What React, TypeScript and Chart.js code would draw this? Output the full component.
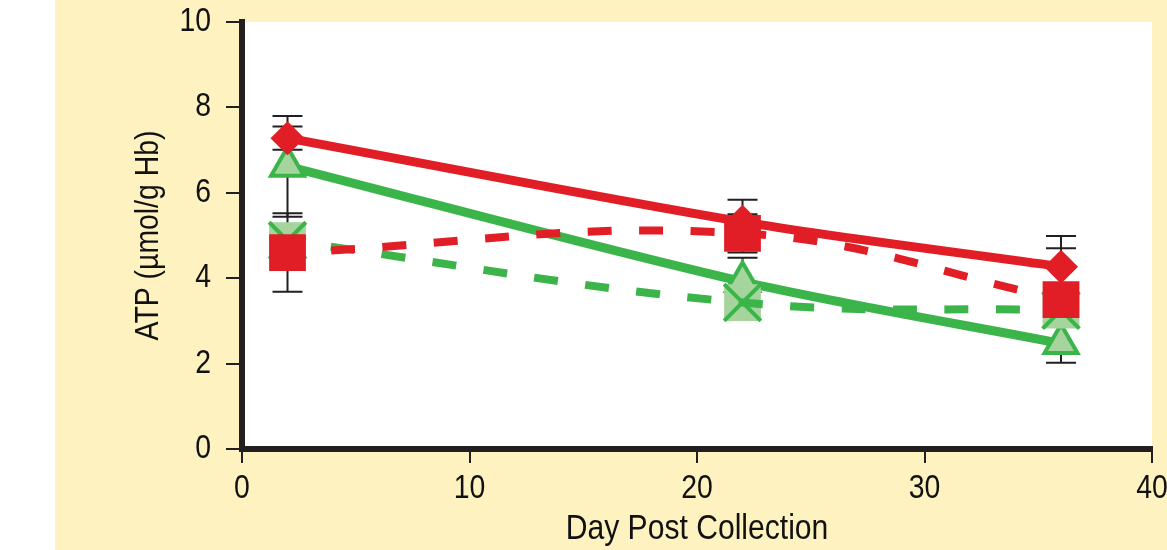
import React, { useEffect, useRef } from "react";
import { Chart, registerables } from "chart.js";

Chart.register(...registerables);

// ---- data ----
const days = [2, 22, 36];
const redSolid = [7.28, 5.32, 4.27]; // diamonds, solid red
const redSolidErr = [0.27, 0.52, 0.72];
const greenSolid = [6.62, 3.92, 2.47]; // triangles, solid green
const greenSolidErr = [1.18, 0.56, 0.45];
const redDashed = [4.6, 5.05, 3.5]; // squares, dashed red
const redDashedErr = [0.92, 0.45, 1.2];
const greenDashed = [4.88, 3.43, 3.25]; // X marks, dashed green
const greenDashedErr = [0.3, 0.25, 0.3];
const xTicks = [0, 10, 20, 30, 40];
const yTicks = [0, 2, 4, 6, 8, 10];

const RED = "#e11d26";
const GREEN = "#3bb54a";
const LIGHTGREEN = "#a5d49d";
const YELLOW = "#fef2c0";
const DARK = "#231f20";
const FONT = "'Liberation Sans', Arial, sans-serif";
const CONDENSE = 0.86; // horizontal squeeze to imitate a condensed face

const pts = (vals: number[]) => days.map((d, i) => ({ x: d, y: vals[i] }));

const condensedTextPlugin = {
  id: "condensedText",
  beforeDraw(chart: any) {
    const ctx = chart.ctx;
    if (ctx.__condensed) return;
    ctx.__condensed = true;
    const orig = CanvasRenderingContext2D.prototype.fillText;
    ctx.fillText = function (text: string, x: number, y: number, maxWidth?: number) {
      this.save();
      this.translate(x, y);
      this.scale(CONDENSE, 1);
      if (maxWidth === undefined) orig.call(this, text, 0, 0);
      else orig.call(this, text, 0, 0, maxWidth / CONDENSE);
      this.restore();
    };
  },
};

const bgPlugin = {
  id: "bgPanel",
  beforeDraw(chart: any) {
    const { ctx, chartArea: a, width, height } = chart;
    ctx.save();
    ctx.fillStyle = "#ffffff";
    ctx.fillRect(0, 0, width, height);
    ctx.fillStyle = YELLOW;
    ctx.fillRect(55, 0, width - 55, height);
    ctx.fillStyle = "#ffffff";
    ctx.fillRect(a.left, a.top, a.right - a.left, a.bottom - a.top);
    ctx.restore();
  },
};

const errPlugin = {
  id: "errBars",
  beforeDatasetsDraw(chart: any) {
    const { ctx } = chart;
    const xs = chart.scales.x;
    const ys = chart.scales.y;
    ctx.save();
    ctx.strokeStyle = DARK;
    ctx.lineWidth = 2;
    chart.data.datasets.forEach((ds: any) => {
      if (!ds.errors) return;
      ds.data.forEach((p: any, i: number) => {
        const e = ds.errors[i];
        const px = xs.getPixelForValue(p.x);
        const t = ys.getPixelForValue(p.y + e);
        const b = ys.getPixelForValue(p.y - e);
        ctx.beginPath();
        ctx.moveTo(px, t);
        ctx.lineTo(px, b);
        ctx.moveTo(px - 15, t);
        ctx.lineTo(px + 15, t);
        ctx.moveTo(px - 15, b);
        ctx.lineTo(px + 15, b);
        ctx.stroke();
      });
    });
    ctx.restore();
  },
};

export default function App() {
  const ref = useRef<HTMLCanvasElement | null>(null);
  useEffect(() => {
    if (!ref.current) return;
    const chart = new Chart(ref.current, {
      type: "line",
      data: {
        datasets: [
          {
            label: "Red dashed (squares)",
            data: pts(redDashed),
            errors: redDashedErr,
            borderColor: RED,
            backgroundColor: RED,
            borderWidth: 8,
            borderDash: [24, 27.5],
            borderDashOffset: 8,
            tension: 0.4,
            pointStyle: "rect",
            pointRadius: 26,
            pointBorderWidth: 0,
            pointBackgroundColor: RED,
            order: 1,
          } as any,
          {
            label: "Red solid (diamonds)",
            data: pts(redSolid),
            errors: redSolidErr,
            borderColor: RED,
            backgroundColor: RED,
            borderWidth: 9,
            tension: 0.3,
            pointStyle: "rectRot",
            pointRadius: 17,
            pointBorderWidth: 0,
            pointBackgroundColor: RED,
            order: 2,
          } as any,
          {
            label: "Green dashed (X)",
            data: pts(greenDashed),
            errors: greenDashedErr,
            borderColor: GREEN,
            backgroundColor: GREEN,
            borderWidth: 8,
            borderDash: [24, 27.5],
            borderDashOffset: 8,
            tension: 0.4,
            pointStyle: "crossRot",
            pointRadius: 26,
            pointBorderWidth: 4,
            pointBorderColor: GREEN,
            order: 3,
          } as any,
          {
            label: "X box",
            data: pts(greenDashed),
            showLine: false,
            pointStyle: "rect",
            pointRadius: 26,
            pointBorderWidth: 0,
            pointBackgroundColor: LIGHTGREEN,
            order: 4,
          } as any,
          {
            label: "Green solid (triangles)",
            data: pts(greenSolid),
            errors: greenSolidErr,
            borderColor: GREEN,
            backgroundColor: GREEN,
            borderWidth: 9,
            tension: 0.3,
            pointStyle: "triangle",
            pointRadius: 19,
            pointBorderWidth: 4,
            pointBorderColor: GREEN,
            pointBackgroundColor: LIGHTGREEN,
            order: 5,
          } as any,
        ],
      },
      options: {
        animation: false,
        responsive: false,
        maintainAspectRatio: false,
        layout: { autoPadding: false, padding: { top: 22, right: 15, bottom: 0, left: 0 } },
        plugins: { legend: { display: false }, tooltip: { enabled: false } },
        scales: {
          x: {
            type: "linear",
            min: 0,
            max: 40,
            afterBuildTicks: (s: any) => {
              s.ticks = xTicks.map((v) => ({ value: v }));
            },
            afterFit: (s: any) => {
              s.height = 101;
              s.paddingLeft = 0;
              s.paddingRight = 0;
            },
            ticks: {
              color: "#111",
              font: { family: FONT, size: 33 },
              padding: 6,
              maxRotation: 0,
              autoSkip: false,
            },
            grid: {
              drawOnChartArea: false,
              drawTicks: true,
              tickLength: 14,
              color: DARK,
              lineWidth: 2,
            },
            border: { display: true, color: DARK, width: 6 },
            title: {
              display: true,
              text: "Day Post Collection",
              color: "#111",
              font: { family: FONT, size: 35 },
              padding: { top: 0, bottom: 0 },
            },
          },
          y: {
            type: "linear",
            min: 0,
            max: 10,
            afterBuildTicks: (s: any) => {
              s.ticks = yTicks.map((v) => ({ value: v }));
            },
            afterFit: (s: any) => {
              s.width = 242;
              s.paddingTop = 0;
              s.paddingBottom = 0;
            },
            ticks: {
              color: "#111",
              font: { family: FONT, size: 33 },
              padding: 15,
              autoSkip: false,
            },
            grid: {
              drawOnChartArea: false,
              drawTicks: true,
              tickLength: 16,
              color: DARK,
              lineWidth: 2,
            },
            border: { display: true, color: DARK, width: 6 },
            title: {
              display: true,
              text: "ATP (µmol/g Hb)",
              color: "#111",
              font: { family: FONT, size: 33 },
              padding: { top: 129, bottom: 0 },
            },
          },
        },
      } as any,
      plugins: [condensedTextPlugin, bgPlugin, errPlugin],
    });
    return () => chart.destroy();
  }, []);
  return (
    <div style={{ position: "absolute", left: 0, top: 0, width: 1167, height: 550 }}>
      <canvas ref={ref} width={1167} height={550} style={{ width: 1167, height: 550 }} />
    </div>
  );
}
